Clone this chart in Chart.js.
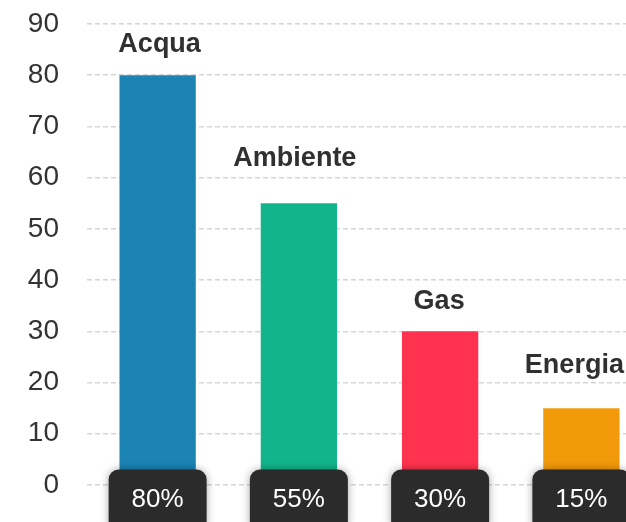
<!DOCTYPE html>
<html>
<head>
<meta charset="utf-8">
<script src="https://cdn.jsdelivr.net/npm/chart.js@4/dist/chart.umd.min.js"></script>
<style>
	html, body { margin: 0; padding: 0; background: #fff; overflow: hidden; }
	#wrap { position: relative; width: 660px; height: 560px; }
</style>
</head>
<body>
<div id="wrap"><canvas id="serviceChart" width="660" height="560"></canvas></div>
<script>
// 데이터
const categories = ['Acqua', 'Ambiente', 'Gas', 'Energia'];
const values = [80, 55, 30, 15];
const percentLabels = ['80%', '55%', '30%', '15%'];
const yTicks = [0, 10, 20, 30, 40, 50, 60, 70, 80, 90];
const barColors = ['#1b84b5', '#12b48c', '#ff334f', '#f39a0b'];

/**
 * 막대 위 이름 + 아래 퍼센트 뱃지
 */
const labelPlugin = {
	id: 'labelPlugin',
	afterDatasetsDraw(chart, args, opts) {
		const ctx = chart.ctx;
		const meta = chart.getDatasetMeta(0);
		const zeroY = chart.scales.y.getPixelForValue(0);
		ctx.save();
		meta.data.forEach(function(bar, i) {
			// 이름
			ctx.font = 'bold 27px "Liberation Sans", Arial, sans-serif';
			ctx.fillStyle = '#303030';
			ctx.textAlign = 'center';
			ctx.textBaseline = 'alphabetic';
			ctx.fillText(categories[i], bar.x + opts.dx[i], bar.y - opts.dy[i]);

			// 뱃지
			const w = 98, h = 62;
			const bx = bar.x - w / 2, by = zeroY - 15.5;
			ctx.save();
			ctx.shadowColor = 'rgba(0,0,0,0.35)';
			ctx.shadowBlur = 8;
			ctx.fillStyle = '#2b2b2b';
			ctx.beginPath();
			ctx.roundRect(bx, by, w, h, 10);
			ctx.fill();
			ctx.restore();

			ctx.font = '26px "Liberation Sans", Arial, sans-serif';
			ctx.fillStyle = '#ffffff';
			ctx.textBaseline = 'middle';
			ctx.fillText(percentLabels[i], bar.x, zeroY + 15);
		});
		ctx.restore();
	}
};

document.addEventListener('DOMContentLoaded', function() {
	const ctx = document.getElementById('serviceChart').getContext('2d');
	new Chart(ctx, {
		type: 'bar',
		data: {
			labels: categories,
			datasets: [{
				data: values,
				backgroundColor: barColors,
				borderWidth: 0,
				barPercentage: 0.9,
				categoryPercentage: 0.6
			}]
		},
		plugins: [labelPlugin],
		options: {
			responsive: false,
			animation: false,
			layout: {
				padding: { top: 24, right: 8, bottom: 75, left: 0 }
			},
			scales: {
				x: {
					display: false
				},
				y: {
					min: 0,
					max: 90,
					afterFit: function(scale) {
						scale.width = 87;
						scale.paddingTop = 0;
					},
					afterBuildTicks: function(scale) {
						scale.ticks = yTicks.map(function(v) { return { value: v }; });
					},
					grid: {
						color: '#d6d6d6',
						lineWidth: 1.5,
						drawTicks: false
					},
					border: { display: false, dash: [5, 3] },
					ticks: {
						padding: 28,
						color: '#333',
						font: { family: '"Liberation Sans", Arial, sans-serif', size: 28 }
					}
				}
			},
			plugins: {
				legend: { display: false },
				tooltip: { enabled: false },
				labelPlugin: {
					dx: [2, -4, -1, -7],
					dy: [23, 37, 22, 35]
				}
			}
		}
	});
});
</script>
</body>
</html>
